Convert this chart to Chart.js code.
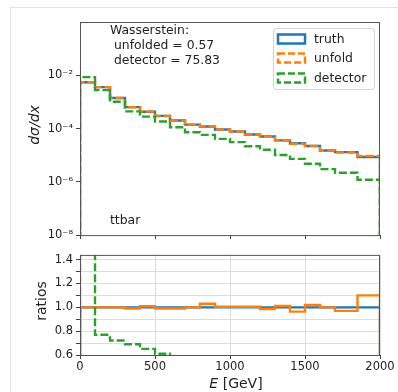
<!DOCTYPE html>
<html>
<head>
<meta charset="utf-8">
<script src="https://cdn.jsdelivr.net/npm/chart.js@4.4.1/dist/chart.umd.min.js"></script>
<style>
  body { margin: 0; background: #fff; font-family: 'DejaVu Sans', sans-serif; color: #222; }
  #wrap { position: relative; width: 398px; height: 392px; overflow: hidden; }
  #frame { position: absolute; left: 10px; top: 7px; right: -2px; bottom: -2px; border-top: 1px solid #e2e2e2; border-left: 1px solid #e2e2e2; }
  canvas { position: absolute; left: 0; }
  .txt { position: absolute; font-size: 12.4px; white-space: pre; line-height: 15px; }
  .ylab { position: absolute; font-size: 14px; transform: translate(-50%, -50%) rotate(-90deg); white-space: nowrap; }
  #xlab { position: absolute; font-size: 14px; transform: translate(-50%, -50%); white-space: nowrap; }
  #legend { position: absolute; left: 273px; top: 28px; width: 100px; height: 60px; border: 1px solid #d4d4d4; border-radius: 3px; background: rgba(255,255,255,0.8); }
  #legend .row { position: absolute; left: 2px; height: 14px; font-size: 12.4px; line-height: 14px; }
  #legend svg { position: absolute; left: 0; top: 0; }
  #legend span { position: absolute; left: 38px; top: 0; white-space: nowrap; }
</style>
</head>
<body>
<div id="wrap">
  <div id="frame"></div>
  <canvas id="mainChart" width="398" height="245" style="top:0"></canvas>
  <canvas id="ratioChart" width="398" height="147" style="top:245px"></canvas>

  <div class="txt" style="left:110px; top:22px;">Wasserstein:
 unfolded = 0.57
 detector = 75.83</div>
  <div class="txt" style="left:110px; top:212px;">ttbar</div>

  <div class="ylab" style="left:34px; top:125px;"><i>dσ/dx</i></div>
  <div class="ylab" style="left:41px; top:301px;">ratios</div>
  <div id="xlab" style="left:236px; top:383px;"><i>E</i> [GeV]</div>

  <div id="legend">
    <div class="row" style="top:3px;">
      <svg width="32" height="14"><rect x="2" y="2.5" width="27" height="9" fill="none" stroke="#1f77b4" stroke-width="2.5"/></svg>
      <span>truth</span>
    </div>
    <div class="row" style="top:22px;">
      <svg width="32" height="14"><rect x="2" y="2.5" width="27" height="9" fill="none" stroke="#ff7f0e" stroke-width="2.5" stroke-dasharray="7 3"/></svg>
      <span>unfold</span>
    </div>
    <div class="row" style="top:42px;">
      <svg width="32" height="14"><rect x="2" y="2.5" width="27" height="9" fill="none" stroke="#2ca02c" stroke-width="2.5" stroke-dasharray="7 3"/></svg>
      <span>detector</span>
    </div>
  </div>
</div>

<script>
// bin edges in GeV
const binEdges = [0, 100, 200, 300, 400, 500, 600, 700, 800, 900, 1000,
                  1100, 1200, 1300, 1400, 1500, 1600, 1700, 1850, 2000];

// dsigma/dx per bin
const truth = [5.5e-3, 3.6e-3, 1.4e-3, 6.4e-4, 4.3e-4, 3.0e-4, 2.0e-4, 1.4e-4, 1.2e-4, 9.2e-5,
               7.7e-5, 6.0e-5, 5.0e-5, 3.6e-5, 2.8e-5, 2.2e-5, 1.5e-5, 1.3e-5, 8.5e-6];
const unfold = [5.5e-3, 3.6e-3, 1.4e-3, 6.34e-4, 4.34e-4, 2.97e-4, 1.98e-4, 1.4e-4, 1.236e-4, 9.25e-5,
                7.74e-5, 6.03e-5, 4.93e-5, 3.64e-5, 2.70e-5, 2.244e-5, 1.5e-5, 1.261e-5, 9.35e-6];
const detector = [8.5e-3, 2.77e-3, 1.01e-3, 4.42e-4, 2.80e-4, 1.83e-4, 1.12e-4, 7.3e-5, 5.8e-5, 4.1e-5,
                  3.1e-5, 2.16e-5, 1.6e-5, 1.01e-5, 7.3e-6, 4.8e-6, 3.0e-6, 2.2e-6, 1.2e-6];

const xTicks = [0, 500, 1000, 1500, 2000];
const logTicks = [1e-8, 1e-6, 1e-4, 1e-2];
const ratioTicks = [0.6, 0.7, 0.8, 0.9, 1.0, 1.1, 1.2, 1.3, 1.4];
const supers = {'-': '⁻', '0': '⁰', '1': '¹', '2': '²', '4': '⁴', '6': '⁶', '8': '⁸'};

const BLUE = '#1f77b4', ORANGE = '#ff7f0e', GREEN = '#2ca02c';
Chart.defaults.font.family = "'DejaVu Sans', sans-serif";
Chart.defaults.color = '#222';

// histogram outline: rises from floor at the first edge, drops back at the last
function stepPoints(values, floor) {
    const last = binEdges.length - 1;
    const pts = [{x: binEdges[0], y: floor}];
    values.forEach((v, i) => pts.push({x: binEdges[i], y: v}));
    pts.push({x: binEdges[last], y: values[values.length - 1]});
    pts.push({x: binEdges[last], y: floor});
    return pts;
}

function histSet(label, values, floor, color, dashed, order) {
    return {
        label: label,
        data: stepPoints(values, floor),
        borderColor: color,
        borderWidth: 2.4,
        borderDash: dashed ? [8, 3] : [],
        stepped: 'before',
        pointRadius: 0,
        fill: false,
        order: order
    };
}

const framePlugin = {
    id: 'frame',
    afterDatasetsDraw(chart) {
        const a = chart.chartArea;
        const ctx = chart.ctx;
        ctx.save();
        ctx.strokeStyle = '#555';
        ctx.lineWidth = 1;
        ctx.strokeRect(a.left + 0.5, a.top + 0.5, a.right - a.left - 1, a.bottom - a.top);
        ctx.restore();
    }
};

const xScaleBase = {
    type: 'linear',
    min: 0,
    max: 2000,
    afterBuildTicks: s => { s.ticks = xTicks.map(v => ({value: v})); },
    border: {display: false}
};

// main panel
new Chart(document.getElementById('mainChart'), {
    type: 'line',
    data: {
        datasets: [
            histSet('truth', truth, 1e-9, BLUE, false, 2),
            histSet('unfold', unfold, 1e-9, ORANGE, true, 1),
            histSet('detector', detector, 1e-9, GREEN, true, 0)
        ]
    },
    options: {
        responsive: false,
        animation: false,
        layout: {padding: {top: 22, right: 18, left: 0, bottom: 0}},
        plugins: {legend: {display: false}, tooltip: {enabled: false}},
        scales: {
            x: Object.assign({}, xScaleBase, {
                grid: {drawOnChartArea: false, drawTicks: true, tickLength: 4, color: '#444'},
                ticks: {callback: () => ''},
                afterFit: s => { s.height = 7; }
            }),
            y: {
                type: 'logarithmic',
                min: 1e-8,
                max: 1,
                afterBuildTicks: s => { s.ticks = logTicks.map(v => ({value: v})); },
                grid: {drawOnChartArea: false, drawTicks: true, tickLength: 4, color: '#444'},
                border: {display: false},
                ticks: {
                    padding: 3,
                    font: {size: 11.5},
                    callback: v => '10' + String(Math.round(Math.log10(v))).split('').map(c => supers[c]).join('')
                },
                afterFit: s => { s.width = 80; }
            }
        }
    },
    plugins: [framePlugin]
});

// ratio panel
const ratioOf = arr => arr.map((v, i) => v / truth[i]);

new Chart(document.getElementById('ratioChart'), {
    type: 'line',
    data: {
        datasets: [
            histSet('truth', ratioOf(truth), 0, BLUE, false, 2),
            histSet('unfold', ratioOf(unfold), 0, ORANGE, false, 1),
            histSet('detector', ratioOf(detector), 0, GREEN, true, 0)
        ]
    },
    options: {
        responsive: false,
        animation: false,
        layout: {padding: {top: 2, right: 18, left: 0, bottom: 0}},
        plugins: {legend: {display: false}, tooltip: {enabled: false}},
        scales: {
            x: Object.assign({}, xScaleBase, {
                grid: {color: '#dcdcdc', tickColor: '#444', tickLength: 4},
                ticks: {padding: 1, font: {size: 11.5}, maxRotation: 0, autoSkip: false, callback: v => String(v)},
                afterFit: s => { s.height = 37; }
            }),
            y: {
                type: 'linear',
                min: 0.6,
                max: 1.44,
                afterBuildTicks: s => { s.ticks = ratioTicks.map(v => ({value: v})); },
                grid: {color: '#dcdcdc', tickColor: '#444', tickLength: 4},
                border: {display: false},
                ticks: {
                    autoSkip: false,
                    padding: 3,
                    font: {size: 11.5},
                    callback: v => (Math.round(v * 10) % 2 === 0 ? v.toFixed(1) : '')
                },
                afterFit: s => { s.width = 80; }
            }
        }
    },
    plugins: [framePlugin]
});
</script>
</body>
</html>
